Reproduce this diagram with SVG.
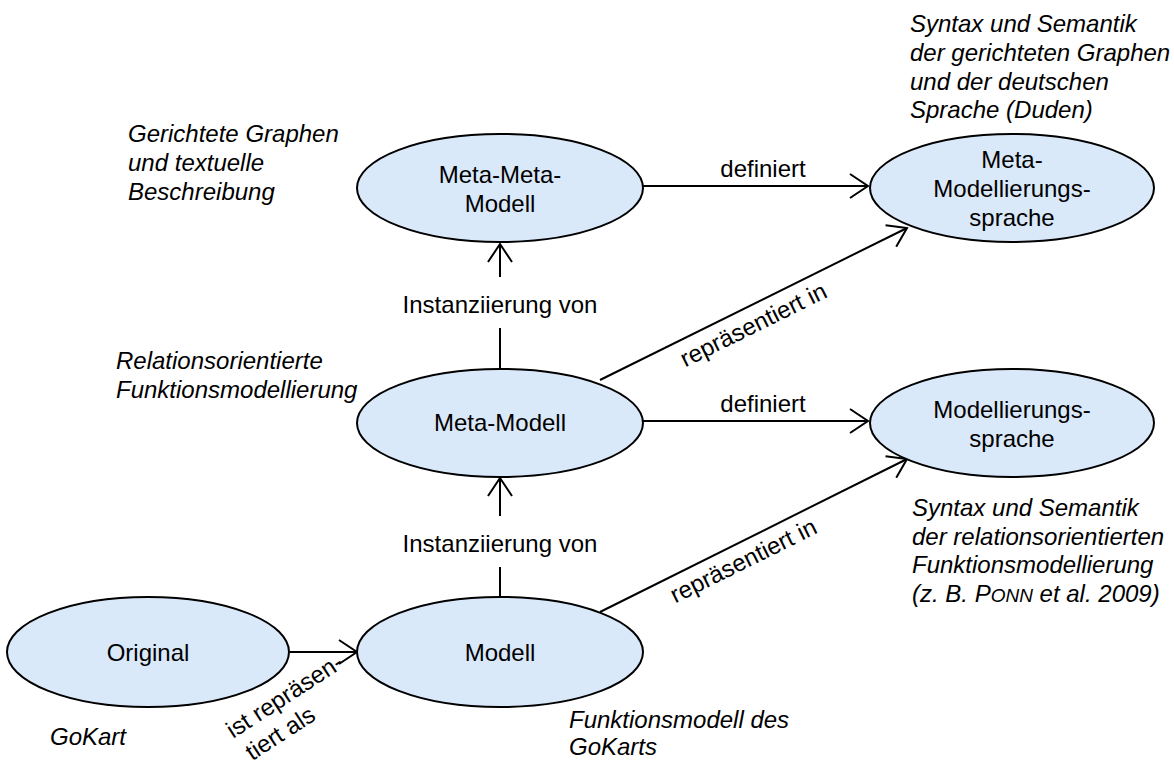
<svg xmlns="http://www.w3.org/2000/svg" width="1174" height="764" viewBox="0 0 1174 764">
  <style>
    .node { fill: #dae9fa; stroke: #000; stroke-width: 2; }
    .lbl { font-family: "Liberation Sans", Arial, sans-serif; font-size: 24px; fill: #000; text-anchor: middle; }
    .note { font-family: "Liberation Sans", Arial, sans-serif; font-size: 24px; font-style: italic; fill: #000; }
    .edge { fill: none; stroke: #000; stroke-width: 2; }
    .elbl { font-family: "Liberation Sans", Arial, sans-serif; font-size: 24px; fill: #000; }
  </style>
  <defs>
    <marker id="open" markerUnits="userSpaceOnUse" markerWidth="24" markerHeight="30" refX="20" refY="14" orient="auto" viewBox="0 0 24 30" overflow="visible">
      <path d="M2,2 L20,14 L2,26" fill="none" stroke="#000" stroke-width="2"/>
    </marker>
  </defs>

  <rect width="1174" height="764" fill="#fff"/>

  <!-- connectors -->
  <g id="connectors">
    <path class="edge" d="M643,186 H868" marker-end="url(#open)"/>
    <path class="edge" d="M643,421 H868" marker-end="url(#open)"/>
    <path class="edge" d="M500,369 V328 M500,277 V244" marker-end="url(#open)"/>
    <path class="edge" d="M500,597 V567 M500,516 V478" marker-end="url(#open)"/>
    <path class="edge" d="M600,380 L907,228" marker-end="url(#open)"/>
    <path class="edge" d="M600,612 L907,459" marker-end="url(#open)"/>
    <path class="edge" d="M290,652 H357" marker-end="url(#open)"/>

    <text class="elbl" x="763" y="177" text-anchor="middle">definiert</text>
    <text class="elbl" x="763" y="412" text-anchor="middle">definiert</text>
    <text class="elbl" x="500" y="313" text-anchor="middle">Instanziierung von</text>
    <text class="elbl" x="500" y="552" text-anchor="middle">Instanziierung von</text>
    <text class="elbl" text-anchor="middle" transform="translate(757,332) rotate(-26.3)">repräsentiert in</text>
    <text class="elbl" text-anchor="middle" transform="translate(747,568) rotate(-26.4)">repräsentiert in</text>
    <g transform="translate(233,739) rotate(-33)">
      <text class="elbl" x="0" y="0">ist repräsen-</text>
      <text class="elbl" x="4" y="29">tiert als</text>
    </g>
  </g>

  <!-- nodes -->
  <g id="meta-meta-modell">
    <ellipse class="node" cx="500" cy="188" rx="143" ry="54"/>
    <text class="lbl" x="500" y="183">Meta-Meta-</text>
    <text class="lbl" x="500" y="212">Modell</text>
  </g>
  <g id="meta-modellierungssprache">
    <ellipse class="node" cx="1012" cy="188" rx="142" ry="54"/>
    <text class="lbl" x="1012" y="168">Meta-</text>
    <text class="lbl" x="1012" y="197">Modellierungs-</text>
    <text class="lbl" x="1012" y="226">sprache</text>
  </g>
  <g id="meta-modell">
    <ellipse class="node" cx="500" cy="423" rx="143" ry="54"/>
    <text class="lbl" x="500" y="431">Meta-Modell</text>
  </g>
  <g id="modellierungssprache">
    <ellipse class="node" cx="1012" cy="423" rx="142" ry="54"/>
    <text class="lbl" x="1012" y="418">Modellierungs-</text>
    <text class="lbl" x="1012" y="447">sprache</text>
  </g>
  <g id="original">
    <ellipse class="node" cx="148" cy="652" rx="141" ry="55"/>
    <text class="lbl" x="148" y="661">Original</text>
  </g>
  <g id="modell">
    <ellipse class="node" cx="500" cy="652" rx="143" ry="55"/>
    <text class="lbl" x="500" y="661">Modell</text>
  </g>

  <!-- annotations -->
  <g id="notes">
    <text class="note" x="128" y="142">Gerichtete Graphen</text>
    <text class="note" x="128" y="171">und textuelle</text>
    <text class="note" x="128" y="200">Beschreibung</text>

    <text class="note" x="910" y="32">Syntax und Semantik</text>
    <text class="note" x="910" y="61">der gerichteten Graphen</text>
    <text class="note" x="910" y="90">und der deutschen</text>
    <text class="note" x="910" y="118">Sprache (Duden)</text>

    <text class="note" x="116" y="369">Relationsorientierte</text>
    <text class="note" x="116" y="398">Funktionsmodellierung</text>

    <text class="note" x="912" y="516">Syntax und Semantik</text>
    <text class="note" x="912" y="545">der relationsorientierten</text>
    <text class="note" x="912" y="573">Funktionsmodellierung</text>
    <text class="note" x="912" y="602">(z. B. P<tspan font-size="19">ONN</tspan> et al. 2009)</text>

    <text class="note" x="50" y="745">GoKart</text>

    <text class="note" x="569" y="728">Funktionsmodell des</text>
    <text class="note" x="569" y="755">GoKarts</text>
  </g>
</svg>
